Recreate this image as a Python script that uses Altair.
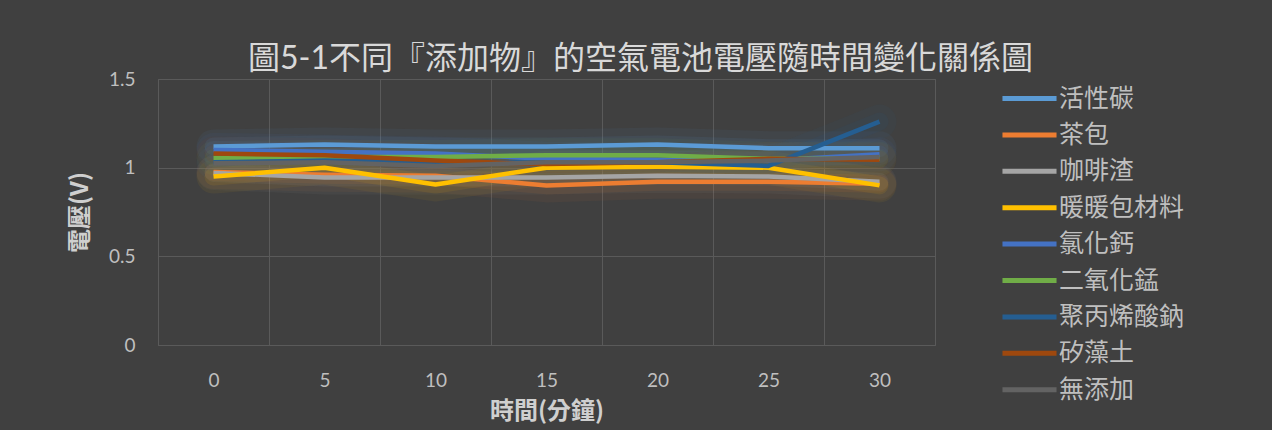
import altair as alt
import pandas as pd

# Sampling times (minutes)
times = [0, 5, 10, 15, 20, 25, 30]

# Air-battery voltage (V) for each additive
series_names = ["活性碳", "茶包", "咖啡渣", "暖暖包材料", "氯化鈣",
                "二氧化錳", "聚丙烯酸鈉", "矽藻土", "無添加"]
activated_carbon = [1.12, 1.13, 1.12, 1.12, 1.13, 1.11, 1.11]
tea_bag = [0.975, 0.96, 0.955, 0.90, 0.92, 0.92, 0.91]
coffee_grounds = [0.97, 0.945, 0.945, 0.945, 0.955, 0.95, 0.92]
hand_warmer = [0.95, 1.00, 0.905, 1.00, 1.005, 1.00, 0.90]
calcium_chloride = [1.10, 1.09, 1.08, 1.05, 1.045, 1.04, 1.075]
manganese_dioxide = [1.055, 1.06, 1.06, 1.07, 1.07, 1.05, 1.05]
sodium_polyacrylate = [1.03, 1.04, 1.03, 1.03, 1.03, 1.01, 1.26]
diatomite = [1.08, 1.07, 1.04, 1.02, 1.03, 1.05, 1.045]
no_additive = [1.025, 1.03, 1.01, 1.03, 1.03, 1.04, 1.06]

series_values = [activated_carbon, tea_bag, coffee_grounds, hand_warmer,
                 calcium_chloride, manganese_dioxide, sodium_polyacrylate,
                 diatomite, no_additive]
series_colors = ["#5B9BD5", "#ED7D31", "#A5A5A5", "#FFC000", "#4472C4",
                 "#70AD47", "#255E91", "#9E480E", "#636363"]

y_ticks = [0, 0.5, 1, 1.5]

rows = []
for idx, (name, vals) in enumerate(zip(series_names, series_values)):
    for t, v in zip(times, vals):
        rows.append({"series": name, "order": idx, "time": t, "voltage": v})
df = pd.DataFrame(rows)

FONT = "Lato, 'Noto Sans CJK TC', sans-serif"
CJK = "'Noto Sans CJK TC', sans-serif"
GRID = "#5a5a5a"

x_enc = alt.X(
    "time:O",
    bandPosition=0.5,
    scale=alt.Scale(type="band", paddingInner=0, paddingOuter=0),
    axis=alt.Axis(
        title="時間(分鐘)", labelAngle=0, tickBand="extent", grid=True,
        gridColor=GRID, gridWidth=1, ticks=False, domain=False,
        labelFont=FONT, labelFontSize=19, labelColor="#bfbfbf", labelPadding=26,
        titleFont=CJK, titleFontSize=24, titleFontWeight="bold",
        titleColor="#cfcfcf", titleY=66, titleBaseline="middle",
    ),
)
y_enc = alt.Y(
    "voltage:Q",
    scale=alt.Scale(domain=[0, 1.5], nice=False, zero=True),
    axis=alt.Axis(
        title="電壓(V)", values=y_ticks, labelExpr="datum.value + ''",
        grid=True, gridColor=GRID, gridWidth=1, ticks=False, domain=False,
        labelFont=FONT, labelFontSize=19, labelColor="#bfbfbf", labelPadding=23,
        titleFont=CJK, titleFontSize=24, titleFontWeight="bold",
        titleColor="#cfcfcf", titleX=-78, titleY=133,
        titleAlign="center", titleBaseline="middle",
    ),
)

base = alt.Chart(df)

# soft glow underneath every line (stroke channel, kept out of the legend)
glow_scale = alt.Scale(domain=series_names, range=series_colors)
glow_outer = base.mark_line(strokeWidth=34, opacity=0.06, strokeCap="round",
                            strokeJoin="round").encode(
    x=x_enc, y=y_enc,
    stroke=alt.Stroke("series:N", scale=glow_scale, legend=None),
    detail="series:N", order="time:O",
)
glow_inner = base.mark_line(strokeWidth=18, opacity=0.09, strokeCap="round",
                            strokeJoin="round").encode(
    x=x_enc, y=y_enc,
    stroke=alt.Stroke("series:N", scale=glow_scale, legend=None),
    detail="series:N", order="time:O",
)

lines = base.mark_line(strokeWidth=4.5, strokeJoin="round").encode(
    x=x_enc, y=y_enc,
    color=alt.Color(
        "series:N",
        scale=alt.Scale(domain=series_names, range=series_colors),
        sort=series_names, title=None,
        legend=alt.Legend(
            orient="none", legendX=859, legendY=7, padding=0,
            symbolType="M-5,0H5", symbolSize=117, symbolStrokeWidth=5,
            labelFont=CJK, labelFontSize=25, labelColor="#bfbfbf",
            labelOffset=17, rowPadding=10.4,
        ),
    ),
    detail="series:N", order="time:O",
)

chart = alt.layer(glow_outer, glow_inner, lines).resolve_scale(
    stroke="independent", color="independent"
).properties(
    width=777,
    height=266,
    title=alt.TitleParams(
        "圖5-1不同『添加物』的空氣電池電壓隨時間變化關係圖",
        font=FONT, fontSize=32, fontWeight="normal", color="#d9d9d9",
        anchor="middle", dx=94, dy=14, offset=8,
    ),
    padding={"left": 158, "top": 79, "right": 337, "bottom": 85},
    autosize=alt.AutoSizeParams(type="none"),
    background="#404040",
).configure_view(stroke=GRID, strokeWidth=1)

chart.save("out.html", embed_options={"renderer": "svg", "actions": False})
